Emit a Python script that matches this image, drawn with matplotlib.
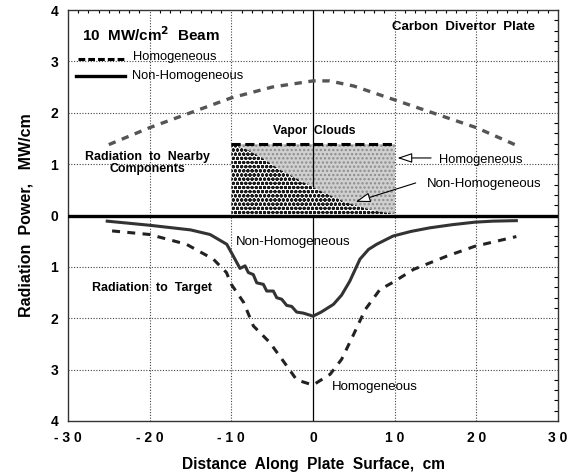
import matplotlib
matplotlib.use("Agg")
import matplotlib.pyplot as plt
import numpy as np

plt.rcParams['font.family'] = ['Liberation Sans', 'DejaVu Sans']
plt.rcParams['hatch.linewidth'] = 1.1

# ---- data ----
# Upper: radiation to nearby components, homogeneous (dashed gray)
up_x = [-25, -20, -15, -10, -5, 0, 2, 5, 10, 15, 20, 25]
up_y = [1.38, 1.71, 2.00, 2.29, 2.50, 2.62, 2.62, 2.52, 2.25, 1.98, 1.71, 1.36]

# Vapor cloud box (homogeneous) and non-homogeneous boundary
box_x = [-10, 10]
box_top = 1.40
nh_cloud_x = [-10, -8, -6.5, -4, -2, 0, 2, 4, 6, 8, 10]
nh_cloud_y = [1.40, 1.28, 1.15, 0.89, 0.72, 0.55, 0.40, 0.26, 0.16, 0.08, 0.03]

# Lower: radiation to target, non-homogeneous (solid)
nh_x = [-25.2, -20, -15, -12.6, -10.56, -9.76, -8.94, -8.32, -7.92, -7.31, -6.89,
        -6.08, -5.67, -4.86, -4.44, -3.83, -3.22, -2.61, -2.0, -1.19, -0.37, 0,
        1.0, 2.5, 3.5, 4.5, 5.75, 6.8, 7.8, 9.8, 12, 14.3, 17, 19.8, 22, 24.9]
nh_y = [-0.11, -0.19, -0.28, -0.37, -0.56, -0.79, -1.03, -0.98, -1.11, -1.15, -1.31,
        -1.34, -1.47, -1.47, -1.60, -1.63, -1.75, -1.77, -1.88, -1.90, -1.94, -1.96,
        -1.88, -1.73, -1.55, -1.28, -0.85, -0.66, -0.56, -0.40, -0.31, -0.24, -0.18, -0.13, -0.11, -0.10]

# Lower: radiation to target, homogeneous (dashed)
h_x = [-24.6, -20, -15.5, -12.2, -10.6, -10, -8.5, -7.3, -5.3, -3.2, -2.0, 0,
       2.1, 3.5, 4.9, 6.4, 8.2, 9.8, 12.3, 16.4, 19.8, 24.9]
h_y = [-0.30, -0.37, -0.56, -0.85, -1.11, -1.34, -1.69, -2.15, -2.47, -2.93, -3.20, -3.30,
       -3.09, -2.80, -2.34, -1.83, -1.44, -1.30, -1.05, -0.79, -0.60, -0.41]

xticks = [-30, -20, -10, 0, 10, 20, 30]
xtick_labels = ['- 3 0', '- 2 0', '- 1 0', '0', '1 0', '2 0', '3 0']
yticks = [-4, -3, -2, -1, 0, 1, 2, 3, 4]
ytick_labels = ['4', '3', '2', '1', '0', '1', '2', '3', '4']

# ---- figure ----
fig = plt.figure(figsize=(5.83, 4.76), dpi=100)
ax = fig.add_axes([68/583, 1-421/476, 490/583, 411/476])
ax.set_xlim(-30, 30)
ax.set_ylim(-4, 4)

# grid
for gx in [-20, -10, 10, 20]:
    ax.axvline(gx, color='#444444', lw=0.8, ls=(0, (1, 1.5)), zorder=1)
for gy in [-3, -2, -1, 1, 2, 3]:
    ax.axhline(gy, color='#444444', lw=0.8, ls=(0, (1, 1.5)), zorder=1)

# vapor clouds
ax.fill_between(box_x, [0, 0], [box_top, box_top], facecolor='#d0d0d0',
                edgecolor='#8c8c8c', hatch='....', lw=0, zorder=2)
ax.axvline(0, color='black', lw=0.9, zorder=3)
ax.fill_between(nh_cloud_x, 0, nh_cloud_y, facecolor='white',
                edgecolor='#1a1a1a', hatch='oooo', lw=0, zorder=4)
ax.plot(box_x, [box_top, box_top], color='black', lw=2.2, ls=(0, (3, 1.5)), zorder=5)

ax.axhline(0, color='black', lw=2.4, zorder=6)

# curves
ax.plot(up_x, up_y, color='#555555', lw=2.4, ls=(0, (2.2, 2.0)), zorder=5)
ax.plot(nh_x, nh_y, color='#333333', lw=2.2, zorder=5)
ax.plot(h_x, h_y, color='#222222', lw=2.2, ls=(0, (2.6, 2.4)), zorder=5)

# legend-like entries
ax.plot([-28.8, -23.0], [3.05, 3.05], color='black', lw=2.2, ls=(0, (2.2, 1.0)))
ax.text(-22.0, 3.08, 'Homogeneous', fontsize=9.3, va='center', ha='left')
ax.plot([-29.0, -23.0], [2.72, 2.72], color='black', lw=2.4)
ax.text(-22.2, 2.72, 'Non-Homogeneous', fontsize=9.3, va='center', ha='left')

ax.text(-28.3, 3.52, '10  MW/cm$^\\mathbf{2}$  Beam', fontsize=11, fontweight='bold',
        va='center', ha='left')
ax.text(9.7, 3.66, 'Carbon  Divertor  Plate', fontsize=9.5, fontweight='bold',
        va='center', ha='left')
ax.text(0.2, 1.65, 'Vapor  Clouds', fontsize=8.8, fontweight='bold', va='center', ha='center')
ax.text(-20.3, 1.03, 'Radiation  to  Nearby\nComponents', fontsize=8.9, fontweight='bold',
        va='center', ha='center', linespacing=1.0)
ax.text(15.4, 1.09, 'Homogeneous', fontsize=9.3, va='center', ha='left')
ax.text(14.0, 0.62, 'Non-Homogeneous', fontsize=9.5, va='center', ha='left')
ax.text(-9.4, -0.52, 'Non-Homogeneous', fontsize=9.5, va='center', ha='left')
ax.text(-19.7, -1.42, 'Radiation  to  Target', fontsize=9.0, fontweight='bold',
        va='center', ha='center')
ax.text(2.3, -3.34, 'Homogeneous', fontsize=9.5, va='center', ha='left')

# arrows
ax.annotate('', xy=(10.0, 1.12), xytext=(14.8, 1.12),
            arrowprops=dict(arrowstyle='-|>,head_length=0.9,head_width=0.3',
                            fc='white', ec='black', lw=0.8), zorder=7)
ax.annotate('', xy=(4.9, 0.25), xytext=(12.9, 0.65),
            arrowprops=dict(arrowstyle='-|>,head_length=0.9,head_width=0.3',
                            fc='white', ec='black', lw=0.8), zorder=7)

# ticks
ax.set_xticks(xticks)
ax.set_xticklabels(xtick_labels, fontsize=10, fontweight='bold')
ax.set_yticks(yticks)
ax.set_yticklabels(ytick_labels, fontsize=10, fontweight='bold')
ax.tick_params(axis='both', length=0, pad=7)
ax.set_yticks(np.arange(-4, 4.01, 0.2), minor=True)
ax.set_xticks(np.arange(-30, 30.01, 1.25), minor=True)
ax.tick_params(axis='y', which='minor', left=False, right=True, direction='in', length=3, width=0.8)
ax.tick_params(axis='x', which='minor', bottom=False, top=True, direction='in', length=2.5, width=0.8)

for s in ax.spines.values():
    s.set_linewidth(1.0)
    s.set_color('#333333')

fig.text(313/583, 1-464/476, 'Distance  Along  Plate  Surface,  cm', fontsize=11.2,
         fontweight='bold', ha='center', va='center')
ax.set_ylabel('Radiation  Power,   MW/cm', fontsize=11.5, fontweight='bold', labelpad=12)

fig.savefig('out.png', dpi=100)
